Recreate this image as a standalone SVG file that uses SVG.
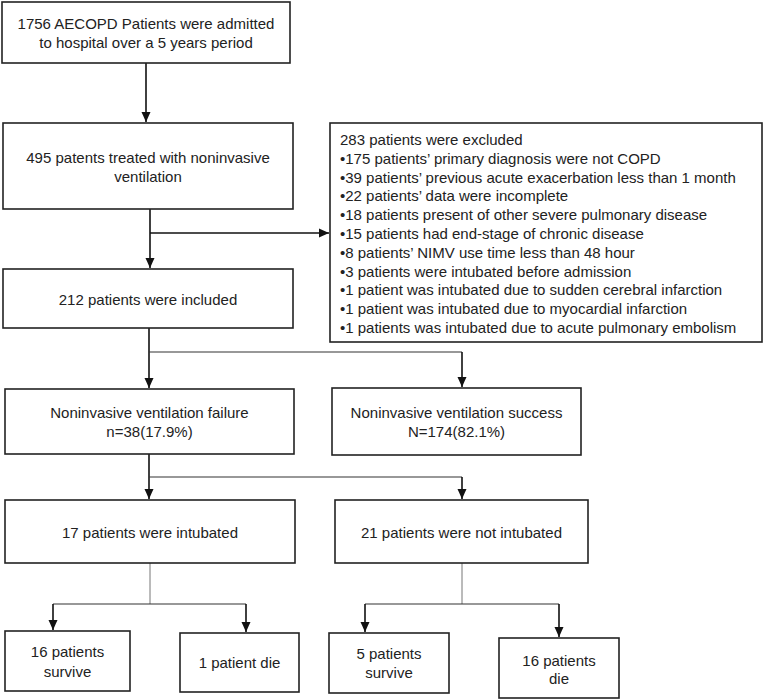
<svg xmlns="http://www.w3.org/2000/svg" width="764" height="700" viewBox="0 0 764 700">
<style>
  .box { fill: #ffffff; stroke: #222222; stroke-width: 1.6; }
  .t { font-family: "Liberation Sans", Arial, sans-serif; font-size: 15px; fill: #222222; }
  .c { text-anchor: middle; }
  .arr { stroke: #111111; stroke-width: 1.6; fill: none; marker-end: url(#ah); }
  .ln { stroke: #333333; stroke-width: 1.1; fill: none; }
  .thin { stroke: #777777; stroke-width: 1; fill: none; }
</style>
<defs>
  <marker id="ah" markerUnits="userSpaceOnUse" markerWidth="10" markerHeight="10" refX="10" refY="5" orient="auto">
    <path d="M0,0.5 L10,5 L0,9.5 Z" fill="#111111"/>
  </marker>
</defs>
<rect width="764" height="700" fill="#ffffff"/>

<g id="connectors">
  <path class="arr" d="M146,63 V122"/>
  <path class="arr" d="M150,209 V268"/>
  <path class="arr" d="M150,233 H329"/>
  <path class="arr" d="M149,328 V388"/>
  <path class="ln" d="M149,352 H462"/>
  <path class="arr" d="M462,352 V387"/>
  <path class="arr" d="M149,454 V499"/>
  <path class="ln" d="M149,477 H462"/>
  <path class="arr" d="M462,477 V499"/>
  <path class="thin" d="M150,563 V604"/>
  <path class="ln" d="M53,604 H246"/>
  <path class="arr" d="M53,604 V630"/>
  <path class="arr" d="M246,604 V632"/>
  <path class="thin" d="M462,563 V604"/>
  <path class="ln" d="M365,604 H559"/>
  <path class="arr" d="M365,604 V632"/>
  <path class="arr" d="M559,604 V637"/>
</g>

<g id="admitted">
  <rect class="box" x="2" y="2" width="288" height="61"/>
  <text class="t c" x="146" y="29">1756 AECOPD Patients were admitted</text>
  <text class="t c" x="146" y="48">to hospital over a 5 years period</text>
</g>

<g id="treated">
  <rect class="box" x="3" y="123" width="290" height="86"/>
  <text class="t c" x="148" y="163">495 patents treated with noninvasive</text>
  <text class="t c" x="148" y="182">ventilation</text>
</g>

<g id="included">
  <rect class="box" x="3" y="269" width="290" height="59"/>
  <text class="t c" x="148" y="305">212 patients were included</text>
</g>

<g id="excluded">
  <rect class="box" x="330" y="123" width="432" height="219"/>
  <text class="t" x="340" y="145">283 patients were excluded</text>
  <text class="t" x="340" y="163.8">•175 patients’ primary diagnosis were not COPD</text>
  <text class="t" x="340" y="182.6">•39 patients’ previous acute exacerbation less than 1 month</text>
  <text class="t" x="340" y="201.4">•22 patients’ data were incomplete</text>
  <text class="t" x="340" y="220.2">•18 patients present of other severe pulmonary disease</text>
  <text class="t" x="340" y="239">•15 patients had end-stage of chronic disease</text>
  <text class="t" x="340" y="257.8">•8 patients’ NIMV use time less than 48 hour</text>
  <text class="t" x="340" y="276.6">•3 patients were intubated before admission</text>
  <text class="t" x="340" y="295.4">•1 patient was intubated due to sudden cerebral infarction</text>
  <text class="t" x="340" y="314.2">•1 patient was intubated due to myocardial infarction</text>
  <text class="t" x="340" y="333">•1 patients was intubated due to acute pulmonary embolism</text>
</g>

<g id="failure">
  <rect class="box" x="5" y="389" width="289" height="65"/>
  <text class="t c" x="149.5" y="418">Noninvasive ventilation failure</text>
  <text class="t c" x="149.5" y="437">n=38(17.9%)</text>
</g>

<g id="success">
  <rect class="box" x="332" y="388" width="249" height="67"/>
  <text class="t c" x="456.5" y="418">Noninvasive ventilation success</text>
  <text class="t c" x="456.5" y="437">N=174(82.1%)</text>
</g>

<g id="intubated">
  <rect class="box" x="5" y="500" width="290" height="63"/>
  <text class="t c" x="150" y="538">17 patients were intubated</text>
</g>

<g id="not-intubated">
  <rect class="box" x="335" y="500" width="253" height="63"/>
  <text class="t c" x="461.5" y="538">21 patients were not intubated</text>
</g>

<g id="intubated-survive">
  <rect class="box" x="5" y="631" width="125" height="60"/>
  <text class="t c" x="67.5" y="657">16 patients</text>
  <text class="t c" x="67.5" y="677">survive</text>
</g>

<g id="intubated-die">
  <rect class="box" x="180" y="633" width="119" height="59"/>
  <text class="t c" x="239.5" y="668">1 patient die</text>
</g>

<g id="not-intubated-survive">
  <rect class="box" x="329" y="633" width="120" height="60"/>
  <text class="t c" x="389" y="659">5 patients</text>
  <text class="t c" x="389" y="678">survive</text>
</g>

<g id="not-intubated-die">
  <rect class="box" x="499" y="638" width="120" height="60"/>
  <text class="t c" x="559" y="666">16 patients</text>
  <text class="t c" x="559" y="684">die</text>
</g>
</svg>
